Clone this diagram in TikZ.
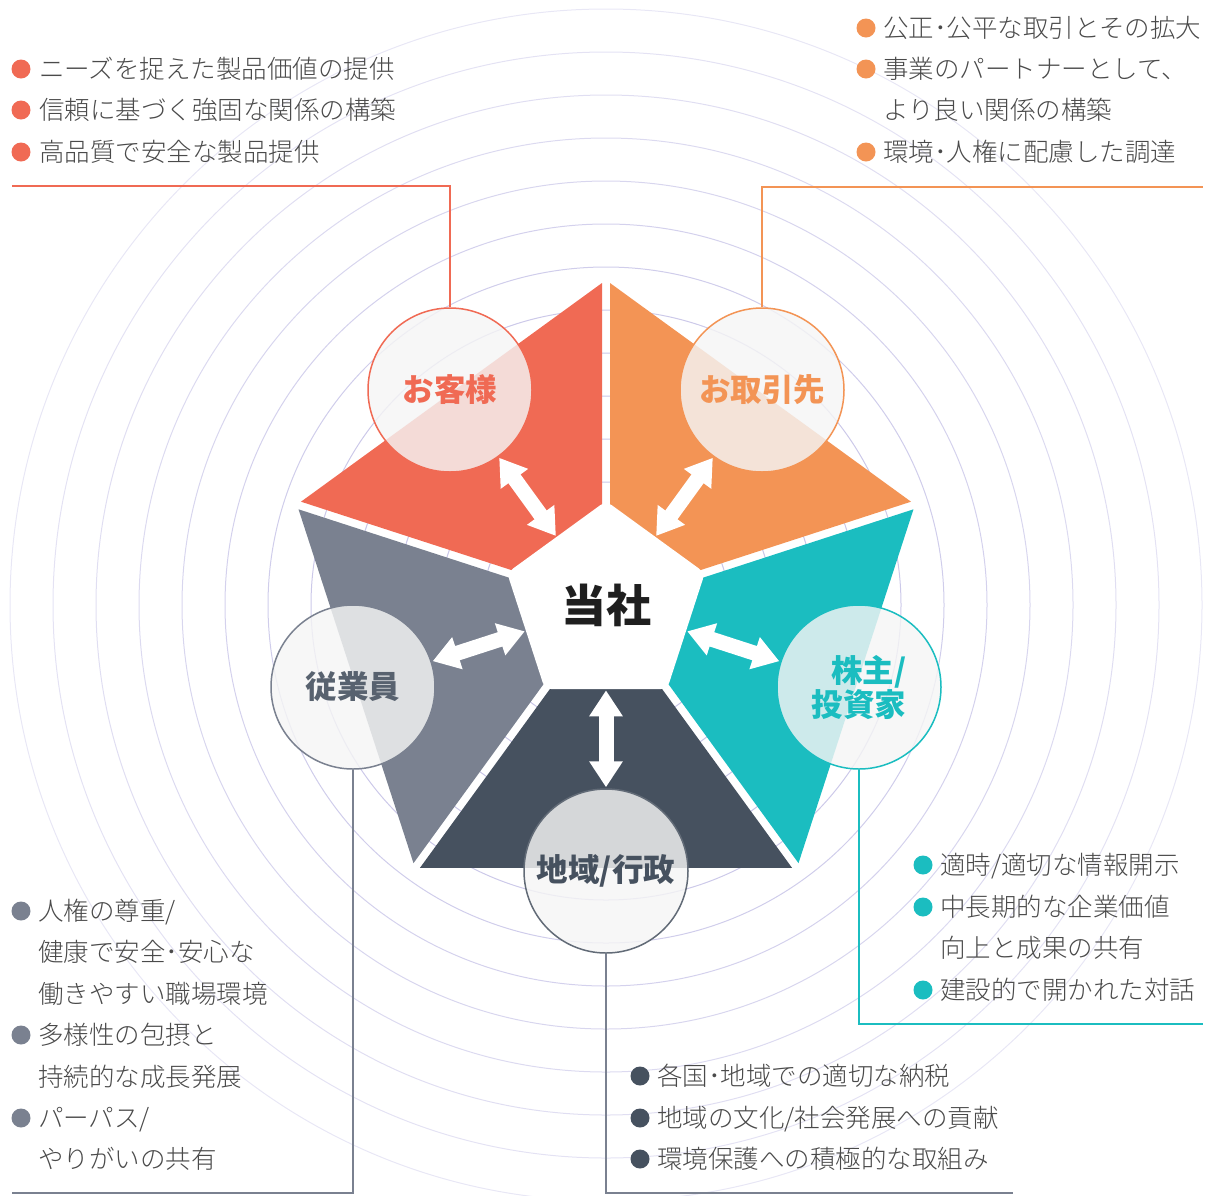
\documentclass[tikz,border=0pt]{standalone}
\usepackage{fontspec}
\setmainfont{Noto Sans CJK JP}
\newfontfamily\jplight{Noto Sans CJK JP Light}
\usetikzlibrary{shapes.geometric,arrows.meta,calc}
\definecolor{cred}{HTML}{F06A54}
\definecolor{corange}{HTML}{F39455}
\definecolor{cteal}{HTML}{1BBDC0}
\definecolor{cgray}{HTML}{7A8190}
\definecolor{cdark}{HTML}{46515F}
\definecolor{ringc}{HTML}{C9C6E8}
\definecolor{txt}{HTML}{4A4A4A}
\definecolor{discfill}{HTML}{F5F5F5}
\tikzset{
  ring/.style={draw=ringc, line width=1pt},
  stake/.style={circle, minimum size=164pt, inner sep=0pt, line width=1.5pt,
    fill=discfill, fill opacity=0.82, text opacity=1, draw opacity=1,
    font=\fontsize{31.5}{34}\selectfont\bfseries},
  dbl/.style={draw=white, line width=15pt,
    {Triangle[width=32pt,length=26pt]}-{Triangle[width=32pt,length=26pt]},
    shorten <=1pt, shorten >=1pt},
  lead/.style={line width=1.3pt},
  item/.style={anchor=base west, inner sep=0pt, text=txt,
    font=\fontsize{25.5}{30}\selectfont\jplight},
  bul/.style={circle, minimum size=19pt, inner sep=0pt},
}
\begin{document}
\begin{tikzpicture}[x=1pt,y=-1pt]
\useasboundingbox (0,0) rectangle (1207,1195);
% concentric rings
\begin{scope}
\clip (0,0) rectangle (1207,1195);
\foreach \k in {0,...,11} {
  \pgfmathsetmacro\rr{123+43*\k}
  \pgfmathsetmacro\op{min(1,1.25-0.075*\k)}
  \draw[ring, draw opacity=\op] (606,605) circle[radius=\rr pt];
}
\end{scope}
% petals
\foreach \a/\c in {270/corange, 342/cteal, 54/cdark, 126/cgray, 198/cred} {
  \pgfmathsetmacro\b{\a+72}
  \fill[\c] ({606+322*cos(\a)+4*cos(\a+90)},{605+322*sin(\a)+4*sin(\a+90)})
    -- ({606+322*cos(\b)+4*cos(\b-90)},{605+322*sin(\b)+4*sin(\b-90)})
    -- ({606+90*cos(\b)+4*cos(\b-90)},{605+90*sin(\b)+4*sin(\b-90)})
    -- ({606+90*cos(\a)+4*cos(\a+90)},{605+90*sin(\a)+4*sin(\a+90)}) -- cycle;
}
% center pentagon
\node[regular polygon, regular polygon sides=5, minimum size=208pt, inner sep=0pt,
  fill=white, rounded corners=7pt, text=black!88,
  font=\fontsize{45}{50}\selectfont\bfseries] (co) at (606,605) {当社};
% stakeholder discs
\node[stake, draw=cred, text=cred] (c1) at (450,390) {お客様};
\node[stake, draw=corange, text=corange] (c2) at (762,390) {お取引先};
\node[stake, draw=cteal, text=cteal, align=right] (c3) at (859,687) {株主/\\投資家};
\node[stake, draw=cgray, text=cdark!90] (c4) at (353,687) {従業員};
\node[stake, draw=cdark!85, text=cdark] (c5) at (606,871) {地域/行政};
% double arrows
\foreach \n in {c1,c2,c3,c4,c5} { \draw[dbl] (\n) -- (co); }
% leader lines
\coordinate (e1) at (12,186);
\coordinate (e2) at (1203,187);
\coordinate (e3) at (1203,1024);
\coordinate (e4) at (12,1193);
\coordinate (e5) at (1013,1193);
\draw[lead, cred] (c1.north) |- (e1);
\draw[lead, corange] (c2.north) |- (e2);
\draw[lead, cteal] (c3.south) |- (e3);
\draw[lead, cgray] (c4.south) |- (e4);
\draw[lead, cgray] (c5.south) |- (e5);
% lists: top-left
\node[bul, fill=cred] (b11) at (21,69) {};
\node[bul, fill=cred] (b12) at (21,110) {};
\node[bul, fill=cred] (b13) at (21,152) {};
\node[item] (t11) at (39,78.7) {ニーズを捉えた製品価値の提供};
\node[item] (t12) at (39,119.7) {信頼に基づく強固な関係の構築};
\node[item] (t13) at (39,161.7) {高品質で安全な製品提供};
% top-right
\node[bul, fill=corange] (b21) at (866,28) {};
\node[bul, fill=corange] (b22) at (866,69) {};
\node[bul, fill=corange] (b23) at (866,152) {};
\node[item] (t21) at (883,37.7) {公正･公平な取引とその拡大};
\node[item] (t22) at (883,78.7) {事業のパートナーとして、};
\node[item] (t23) at (883,119.7) {より良い関係の構築};
\node[item] (t24) at (883,161.7) {環境･人権に配慮した調達};
% right-middle
\node[bul, fill=cteal] (b31) at (923,865) {};
\node[bul, fill=cteal] (b32) at (923,907) {};
\node[bul, fill=cteal] (b33) at (923,990) {};
\node[item] (t31) at (940,874.7) {適時/適切な情報開示};
\node[item] (t32) at (940,916.7) {中長期的な企業価値};
\node[item] (t33) at (940,957.7) {向上と成果の共有};
\node[item] (t34) at (940,999.7) {建設的で開かれた対話};
% bottom-left
\node[bul, fill=cgray] (b41) at (21,911) {};
\node[bul, fill=cgray] (b42) at (21,1035) {};
\node[bul, fill=cgray] (b43) at (21,1118) {};
\node[item] (t41) at (38,920.7) {人権の尊重/};
\node[item] (t42) at (38,961.7) {健康で安全･安心な};
\node[item] (t43) at (38,1003.7) {働きやすい職場環境};
\node[item] (t44) at (38,1044.7) {多様性の包摂と};
\node[item] (t45) at (38,1086.7) {持続的な成長発展};
\node[item] (t46) at (38,1127.7) {パーパス/};
\node[item] (t47) at (38,1168.7) {やりがいの共有};
% bottom-center
\node[bul, fill=cdark] (b51) at (640,1076) {};
\node[bul, fill=cdark] (b52) at (640,1118) {};
\node[bul, fill=cdark] (b53) at (640,1159) {};
\node[item] (t51) at (657,1085.7) {各国･地域での適切な納税};
\node[item] (t52) at (657,1127.7) {地域の文化/社会発展への貢献};
\node[item] (t53) at (657,1168.7) {環境保護への積極的な取組み};
\end{tikzpicture}
\end{document}
